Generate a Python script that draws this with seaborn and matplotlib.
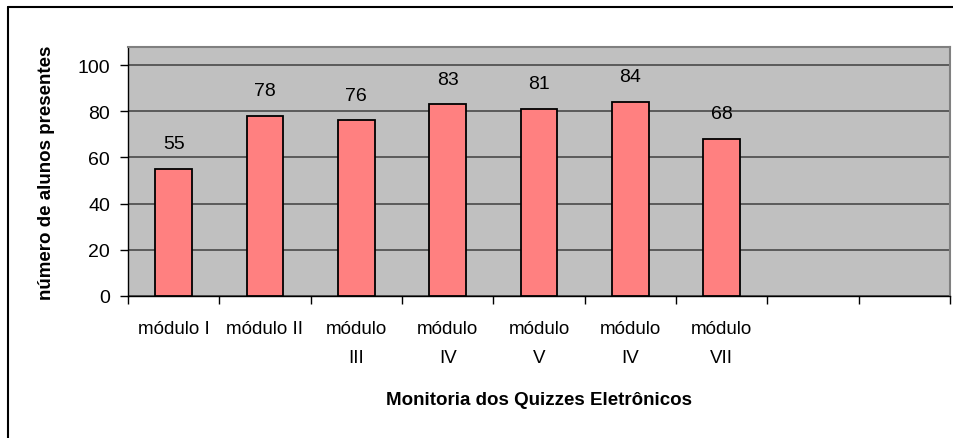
import pandas as pd
import numpy as np
import matplotlib.pyplot as plt
import seaborn as sns
from matplotlib.lines import Line2D

# Data
category_keys = ["m1", "m2", "m3", "m4", "m5", "m6", "m7", "vazio1", "vazio2"]
tick_labels = ["módulo I", "módulo II", "módulo\nIII", "módulo\nIV", "módulo\nV",
               "módulo\nIV", "módulo\nVII", "", ""]
alunos = [55, 78, 76, 83, 81, 84, 68]

df = pd.DataFrame({"modulo": category_keys[:len(alunos)], "alunos": alunos})

sns.set_theme(style="white", rc={"axes.facecolor": "#C0C0C0", "text.color": "black",
                                 "axes.labelcolor": "black", "xtick.color": "black",
                                 "ytick.color": "black"})
plt.rcParams["font.family"] = ["Liberation Sans", "DejaVu Sans"]

fig = plt.figure(figsize=(9.54, 4.39), dpi=100)
ax = fig.add_axes([128 / 954, 142 / 439, 822 / 954, 249 / 439])

sns.barplot(data=df, x="modulo", y="alunos", order=category_keys, color="#FF8080",
            saturation=1, width=0.4, edgecolor="black", linewidth=1.3, ax=ax, zorder=3)

# value labels above bars
for i, v in enumerate(alunos):
    ax.annotate(str(v), (i, v), xytext=(0, 18), textcoords="offset points",
                ha="center", va="center", fontsize=14, color="black")

ax.set_xlim(-0.5, len(category_keys) - 0.5)
ax.set_ylim(0, 107.8)
ax.set_yticks(np.arange(0, 101, 20))
ax.tick_params(axis="y", which="major", length=6, width=1, color="black",
               direction="out", left=True, labelsize=14, pad=7)

# category labels at centres, tick marks at boundaries (Excel style)
ax.set_xticks(range(len(category_keys)))
ax.set_xticklabels(tick_labels, fontsize=13.5, linespacing=1.95, va="top")
ax.set_xticks(np.arange(-0.5, len(category_keys), 1), minor=True)
ax.tick_params(axis="x", which="major", length=0, pad=17)
ax.tick_params(axis="x", which="minor", length=6, width=1, color="black",
               direction="out", bottom=True)

ax.yaxis.grid(True, color="#404040", linewidth=1.1, zorder=0)
ax.set_axisbelow(True)

for side in ["top", "right"]:
    ax.spines[side].set_color("#808080")
    ax.spines[side].set_linewidth(1.5)
for side in ["left", "bottom"]:
    ax.spines[side].set_color("black")
    ax.spines[side].set_linewidth(1)

ax.set_xlabel("Monitoria dos Quizzes Eletrônicos", fontsize=13.5, fontweight="bold", labelpad=18)
ax.set_ylabel("número de alunos presentes", fontsize=13.5, fontweight="bold", labelpad=16)

# outer chart border (only top and left are inside the picture)
fig.add_artist(Line2D([8 / 954, 1.0], [1 - 8 / 439, 1 - 8 / 439], color="black", linewidth=1.5))
fig.add_artist(Line2D([8 / 954, 8 / 954], [0.0, 1 - 8 / 439], color="black", linewidth=1.5))

fig.savefig("out.png", dpi=100)
